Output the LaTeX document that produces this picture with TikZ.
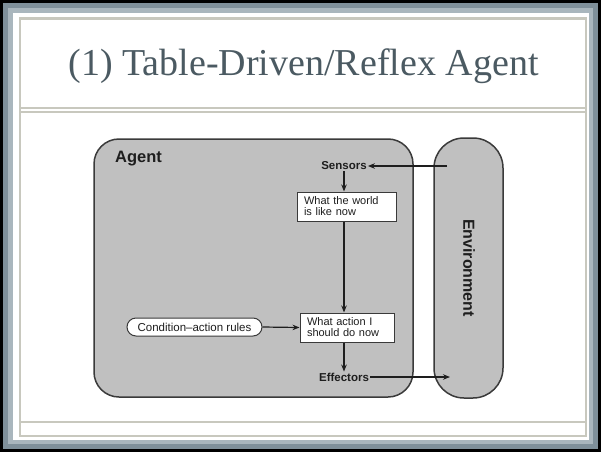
\documentclass[tikz,border=0pt]{standalone}
\usepackage{fontspec}
\setmainfont{Liberation Serif}
\setsansfont{Liberation Sans}
\usetikzlibrary{arrows.meta}
\definecolor{bevelA}{HTML}{7F909A}
\definecolor{bevelB}{HTML}{A9B6BD}
\definecolor{beige}{HTML}{C8C8BE}
\definecolor{titlecol}{HTML}{4B5A62}
\definecolor{boxfill}{HTML}{C0C0C0}
\definecolor{edge}{HTML}{3A3A3A}
\definecolor{ink}{HTML}{1E1E1E}
\tikzset{
  x=1pt, y=-1pt,
  framebox/.style={line width=2.4pt, draw=beige},
  bigbox/.style={fill=boxfill, draw=edge, line width=1.5pt},
  boldlbl/.style={font=\sffamily\bfseries\fontsize{11.5}{12}\selectfont, text=ink, inner sep=1pt},
  statebox/.style={draw=edge, fill=white, line width=1pt, font=\sffamily\fontsize{11}{11}\selectfont,
     text=ink, align=left, minimum height=29pt, inner xsep=7pt, inner ysep=2pt, anchor=center},
  rulebox/.style={draw=edge, fill=white, line width=1pt, rounded corners=9pt, minimum height=18pt,
     minimum width=135pt, font=\sffamily\fontsize{11.5}{12}\selectfont, text=ink, inner sep=1pt},
  conn/.style={draw=ink, line width=1.2pt, -{Stealth[length=7pt,width=5.5pt]}}
}
\begin{document}
\begin{tikzpicture}
\useasboundingbox (0,0) rectangle (601,452);
% outer frame
\fill[black] (0,0) rectangle (601,452);
\fill[bevelA] (3,3) rectangle (598,449);
\fill[bevelB] (8,8) rectangle (593,444);
\fill[white] (13,13) rectangle (589,440);
\draw[framebox] (20,18.5) rectangle (586,436);
\draw[framebox] (20,108) -- (586,108);
\draw[framebox] (20,112) -- (586,112);
\draw[framebox] (20,422) -- (586,422);
% title
\node[font=\fontsize{38}{40}\selectfont, text=titlecol, anchor=base, inner sep=0pt] (title) at (303.5,75) {(1) Table-Driven/Reflex Agent};
% big boxes
\draw[bigbox, rounded corners=25pt] (94,139) rectangle (413,397);
\draw[bigbox, rounded corners=30pt] (434,138) rectangle (503,398);
\node[font=\sffamily\bfseries\fontsize{16.5}{17}\selectfont, text=ink, anchor=west, inner sep=0pt] (agentlbl) at (115,159) {Agent};
\node[font=\sffamily\bfseries\fontsize{16}{17}\selectfont, text=ink, rotate=-90, inner sep=0pt] (envlbl) at (469,268) {Environment};
% inner nodes
\node[boldlbl] (sensors) at (344,166) {Sensors};
\node[statebox, text width=85pt] (world) at (346.5,206.5) {What the world\\is like now};
\node[statebox, text width=80pt] (action) at (347,327.5) {What action I\\should do now};
\node[rulebox] (rules) at (194.5,327) {Condition--action rules};
\node[boldlbl] (effectors) at (344,377) {Effectors};
\coordinate (envin) at (447,166);
\coordinate (envout) at (450,377);
% connectors
\draw[conn] (envin) -- (sensors.east);
\draw[conn] (sensors.south) -- (sensors.south |- world.north);
\draw[conn] (world.south -| sensors.south) -- (sensors.south |- action.north);
\draw[conn] (rules.east) -- (action.west);
\draw[conn] (action.south -| sensors.south) -- (effectors.north);
\draw[conn] (effectors.east) -- (envout);
\end{tikzpicture}
\end{document}
